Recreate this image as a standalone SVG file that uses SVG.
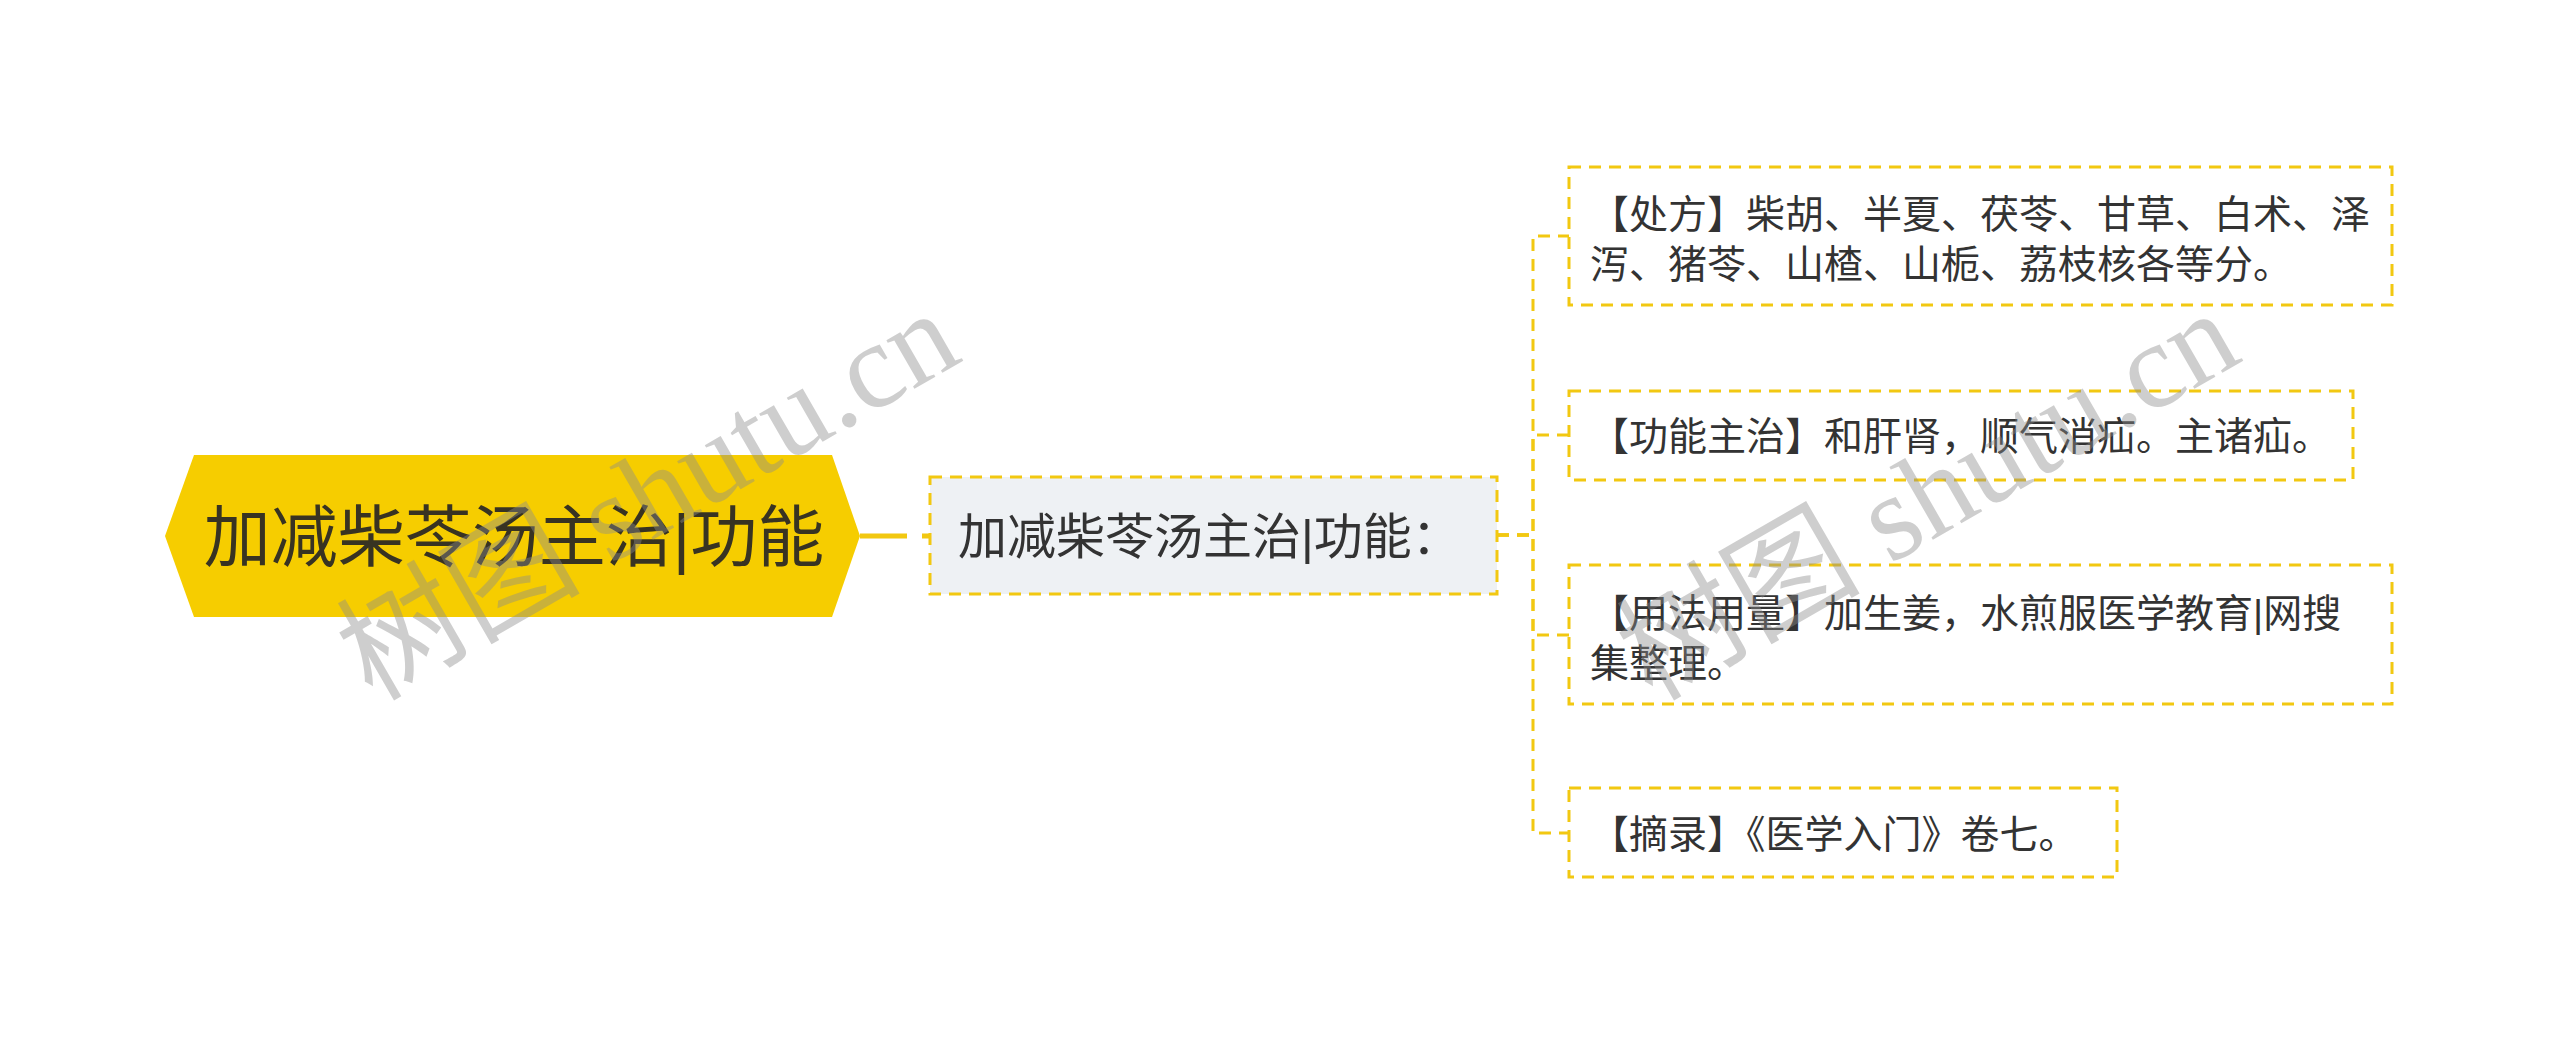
<svg xmlns="http://www.w3.org/2000/svg" width="2560" height="1046" viewBox="0 0 2560 1046">
<style>
.t{font-family:"Liberation Sans","Noto Sans CJK SC",sans-serif;fill:#333333}
.leaf{fill:#ffffff;stroke:#f2c811;stroke-width:3;stroke-dasharray:12 8}
.conn{fill:none;stroke:#f2c811;stroke-width:3;stroke-dasharray:12 8}
.wm{font-family:"Liberation Serif","Noto Sans CJK SC",serif;fill:#8c8c8c;opacity:0.42}
</style>
<rect x="0" y="0" width="2560" height="1046" fill="#ffffff"/>
<g id="connectors">
<path d="M860,536 H930" fill="none" stroke="#f2c811" stroke-width="5" stroke-dasharray="47 15 10 100"/>
<path class="conn" d="M1497,535 H1533 V236 H1569"/>
<path class="conn" d="M1497,535 H1533 V435 H1569"/>
<path class="conn" d="M1497,535 H1533 V635 H1569"/>
<path class="conn" d="M1497,535 H1533 V833 H1569"/>
</g>
<g id="root">
<polygon points="165,536 194,455 832,455 860,536 832,617 194,617" fill="#f6cd00"/>
<text class="t" x="514" y="561" font-size="67" text-anchor="middle" style="fill:#383322">加减柴苓汤主治|功能</text>
</g>
<g id="sub">
<rect x="930" y="477" width="567" height="117" fill="#eef1f4" stroke="#f2c811" stroke-width="3" stroke-dasharray="12 8"/>
<text class="t" x="958" y="554" font-size="49">加减柴苓汤主治|功能：</text>
</g>
<g id="leaf1">
<rect class="leaf" x="1569" y="167" width="823" height="138"/>
<text class="t" x="1590" y="228" font-size="39">【处方】柴胡、半夏、茯苓、甘草、白术、泽</text>
<text class="t" x="1590" y="278" font-size="39">泻、猪苓、山楂、山栀、荔枝核各等分。</text>
</g>
<g id="leaf2">
<rect class="leaf" x="1569" y="391" width="784" height="89"/>
<text class="t" x="1590" y="450" font-size="39">【功能主治】和肝肾，顺气消疝。主诸疝。</text>
</g>
<g id="leaf3">
<rect class="leaf" x="1569" y="565" width="823" height="139"/>
<text class="t" x="1590" y="627" font-size="39">【用法用量】加生姜，水煎服医学教育|网搜</text>
<text class="t" x="1590" y="677" font-size="39">集整理。</text>
</g>
<g id="leaf4">
<rect class="leaf" x="1569" y="788" width="548" height="89"/>
<text class="t" x="1590" y="848" font-size="39">【摘录】《医学入门》卷七。</text>
</g>
<g id="watermark">
<text class="wm" x="372" y="702" font-size="122" transform="rotate(-30 372 702)">树图 shutu.cn</text>
<text class="wm" x="1652" y="702" font-size="122" transform="rotate(-30 1652 702)">树图 shutu.cn</text>
</g>
</svg>
